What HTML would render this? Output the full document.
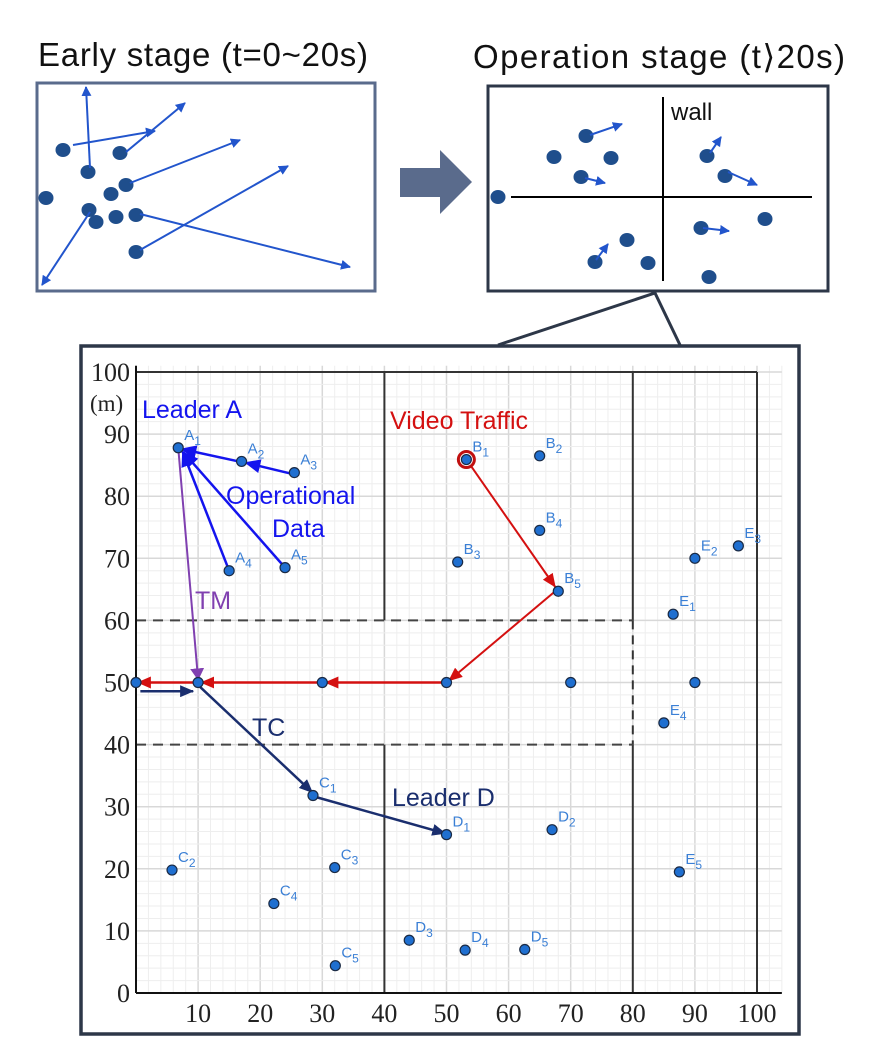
<!DOCTYPE html>
<html><head><meta charset="utf-8">
<style>
html,body{margin:0;padding:0;background:#fff;}
svg{display:block;}
.sans{font-family:"Liberation Sans",sans-serif;}
.serif{font-family:"Liberation Serif",serif;}
</style></head>
<body>
<svg id="s" width="881" height="1051" viewBox="0 0 881 1051" xmlns="http://www.w3.org/2000/svg">
<defs>
<marker id="ab" markerWidth="10" markerHeight="10" refX="9" refY="5" orient="auto" markerUnits="userSpaceOnUse"><path d="M0,0 L10,5 L0,10 z" fill="#2255cc"/></marker>
<marker id="abl" markerWidth="16" markerHeight="14" refX="15" refY="7" orient="auto" markerUnits="userSpaceOnUse"><path d="M0,0 L16,7 L0,14 z" fill="#1414ee"/></marker>
<marker id="ar" markerWidth="14" markerHeight="12" refX="13" refY="6" orient="auto" markerUnits="userSpaceOnUse"><path d="M0,0 L14,6 L0,12 z" fill="#d41010"/></marker>
<marker id="an" markerWidth="14" markerHeight="12" refX="13" refY="6" orient="auto" markerUnits="userSpaceOnUse"><path d="M0,0 L14,6 L0,12 z" fill="#1a2e6e"/></marker>
<marker id="ap" markerWidth="12" markerHeight="14" refX="11" refY="7" orient="auto" markerUnits="userSpaceOnUse"><path d="M0,0 L12,7 L0,14 z" fill="#8040b0"/></marker>
</defs>
<text class="sans" x="38" y="66" font-size="33" fill="#111" textLength="330">Early stage (t=0~20s)</text>
<text class="sans" x="473" y="68" font-size="33" fill="#111" textLength="372">Operation stage (t⟩20s)</text>
<rect x="37" y="83" width="338" height="208" fill="#fff" stroke="#5a6b8c" stroke-width="3"/>
<rect x="488" y="86" width="340" height="205" fill="#fff" stroke="#2d3748" stroke-width="3"/>
<path d="M400,168 H440 V150 L472,182 L440,214 V197 H400 z" fill="#5a6b8c"/>
<polyline points="498,345 655,293 680,345" fill="none" stroke="#2d3748" stroke-width="3"/>
<rect x="81" y="346" width="718" height="688" fill="#fff" stroke="#2d3748" stroke-width="3.5"/>
<g id="top"></g>
<g id="plot"></g>
</svg>
<script>
var ns="http://www.w3.org/2000/svg";
function add(g,tag,attrs,txt){var e=document.createElementNS(ns,tag);for(var k in attrs)e.setAttribute(k,attrs[k]);if(txt!==undefined)e.textContent=txt;document.getElementById(g).appendChild(e);return e;}
[[63,150],[88,172],[120,153],[46,198],[111,194],[126,185],[89,210],[96,222],[116,217],[136,215],[136,252]].forEach(function(p){add("top","ellipse",{cx:p[0],cy:p[1],rx:7.5,ry:7,fill:"#1f4e8c"});});
[[73,145,155,131],[90,168,86,87],[126,152,185,103],[130,183,240,140],[90,212,42,285],[140,250,288,166],[140,214,350,267]].forEach(function(a){add("top","line",{x1:a[0],y1:a[1],x2:a[2],y2:a[3],stroke:"#2255cc","stroke-width":2,"marker-end":"url(#ab)"});});
add("top","line",{x1:663,y1:97,x2:663,y2:281,stroke:"#000","stroke-width":2});
add("top","line",{x1:511,y1:197,x2:812,y2:197,stroke:"#000","stroke-width":2});
add("top","text",{x:671,y:120,"font-size":24,fill:"#111","class":"sans"},"wall");
[[586,136],[554,157],[611,158],[581,177],[498,197],[707,156],[725,176],[701,228],[765,219],[595,262],[627,240],[648,263],[709,277]].forEach(function(p){add("top","ellipse",{cx:p[0],cy:p[1],rx:7.5,ry:7,fill:"#1f4e8c"});});
[[590,135,622,124],[585,178,605,183],[710,153,721,137],[728,172,757,185],[703,228,729,231],[596,260,608,244]].forEach(function(a){add("top","line",{x1:a[0],y1:a[1],x2:a[2],y2:a[3],stroke:"#2255cc","stroke-width":2,"marker-end":"url(#ab)"});});
function X(v){return 136+6.21*v;} function Y(v){return 993-6.21*v;}
var i;
for(i=0;i<=104;i+=2){var mj=i%10==0;add("plot","line",{x1:X(i),y1:Y(0),x2:X(i),y2:Y(101),stroke:mj?"#d8d8d8":"#eeeeee","stroke-width":mj?1.5:1});}
for(i=0;i<=100;i+=2){var mj=i%10==0;add("plot","line",{x1:X(0),y1:Y(i),x2:X(104),y2:Y(i),stroke:mj?"#d8d8d8":"#eeeeee","stroke-width":mj?1.5:1});}
function L(x1,y1,x2,y2,st){var a={x1:X(x1),y1:Y(y1),x2:X(x2),y2:Y(y2),stroke:"#333","stroke-width":2};for(var k in st)a[k]=st[k];return add("plot","line",a);}
L(0,100,100,100);L(40,100,40,60);L(40,40,40,0);L(80,100,80,60);L(80,40,80,0);L(100,100,100,0);
L(80,60,80,40,{"stroke-dasharray":"9,6"});
L(0,60,80,60,{"stroke-dasharray":"10,7","stroke":"#444"});L(0,40,80,40,{"stroke-dasharray":"10,7","stroke":"#444"});
L(0,0,0,101,{stroke:"#111"});L(0,0,104,0,{stroke:"#111"});
for(i=0;i<=100;i+=10){add("plot","text",{x:X(0)-6,y:Y(i)+9,"font-size":26,"text-anchor":"end","class":"serif",fill:"#222"},i);}
add("plot","text",{x:90,y:Y(95)+8,"font-size":23,"class":"serif",fill:"#222"},"(m)");
for(i=10;i<=100;i+=10){add("plot","text",{x:X(i),y:1022,"font-size":26,"text-anchor":"middle","class":"serif",fill:"#222"},i);}
function A(x1,y1,x2,y2,c,m,w){L(x1,y1,x2,y2,{stroke:c,"stroke-width":w||2,"marker-end":"url(#"+m+")"});}
A(6.8,87.8,10,50.5,"#8040b0","ap",2);
A(17,85.5,7.3,87.6,"#1414ee","abl",2.5);A(25.5,83.5,17.6,85.4,"#1414ee","abl",2.5);
A(15,68,7.5,87.2,"#1414ee","abl",2.5);A(24,68.5,7.6,87.1,"#1414ee","abl",2.5);
A(53.5,85.5,67.5,65.4,"#d41010","ar",2);A(67.5,64.7,50.4,50.3,"#d41010","ar",2);
A(49.5,50,30.5,50,"#d41010","ar",2.5);A(29.5,50,10.5,50,"#d41010","ar",2.5);A(9.5,50,0.3,50,"#d41010","ar",2.5);
A(0.7,48.6,9.2,48.6,"#1a2e6e","an",2.5);A(10.3,49.3,28.4,32.3,"#1a2e6e","an",2.5);A(28.8,31.6,49.8,25.7,"#1a2e6e","an",2.5);
add("plot","circle",{cx:X(53.2),cy:Y(85.9),r:8,fill:"#fff",stroke:"#c01010","stroke-width":3});
var pts=[["A",1,6.8,87.8],["A",2,17,85.6],["A",3,25.5,83.8],["A",4,15,68],["A",5,24,68.5],
["B",1,53.2,85.9],["B",2,65,86.5],["B",3,51.8,69.4],["B",4,65,74.5],["B",5,68,64.7],
["C",1,28.5,31.8],["C",2,5.8,19.8],["C",3,32,20.2],["C",4,22.2,14.4],["C",5,32.1,4.4],
["D",1,50,25.5],["D",2,67,26.3],["D",3,44,8.5],["D",4,53,6.9],["D",5,62.6,7],
["E",1,86.5,61],["E",2,90,70],["E",3,97,72],["E",4,85,43.5],["E",5,87.5,19.5]];
[[0,50],[10,50],[30,50],[50,50],[70,50],[90,50]].forEach(function(p){add("plot","circle",{cx:X(p[0]),cy:Y(p[1]),r:5,fill:"#1f6fd0",stroke:"#1a2a44","stroke-width":1.2});});
pts.forEach(function(p){add("plot","circle",{cx:X(p[2]),cy:Y(p[3]),r:5,fill:"#1f6fd0",stroke:"#1a2a44","stroke-width":1.2});
var t=add("plot","text",{x:X(p[2])+6,y:Y(p[3])-8,"font-size":15,fill:"#3a7fd5","class":"sans"},p[0]);
var s=document.createElementNS(ns,"tspan");s.setAttribute("dy","5");s.setAttribute("font-size","12");s.textContent=p[1];t.appendChild(s);});
function T(x,y,c,s){add("plot","text",{x:x,y:y,"font-size":25,fill:c,"class":"sans"},s);}
T(142,418,"#1414ee","Leader A");T(226,504,"#1414ee","Operational");T(272,537,"#1414ee","Data");
T(390,429,"#d41010","Video Traffic");T(195,609,"#8040b0","TM");T(252,736,"#1a2e6e","TC");T(392,806,"#1a2e6e","Leader D");
</script>
</body></html>
